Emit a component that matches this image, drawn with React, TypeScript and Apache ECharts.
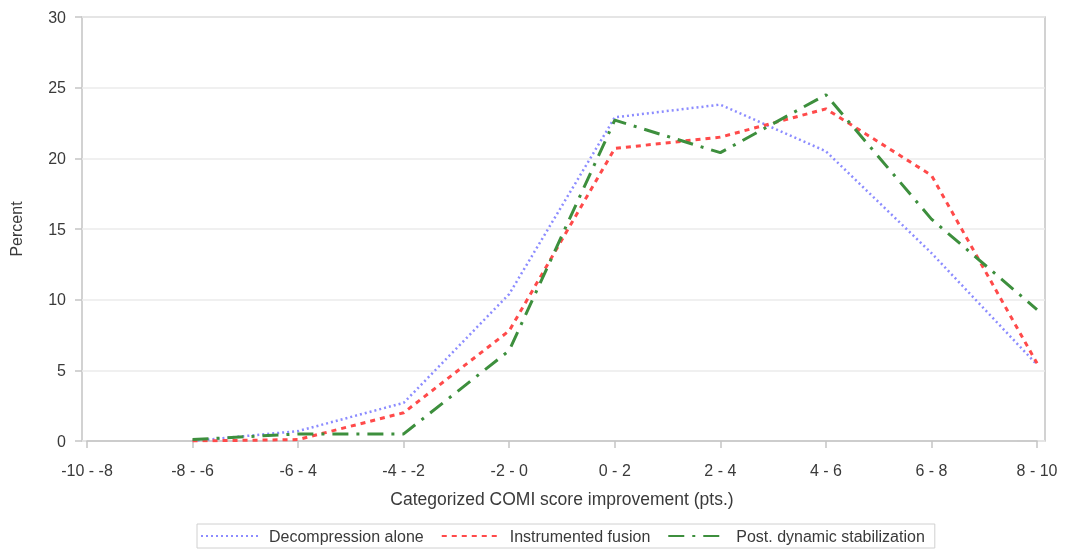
import React, { useEffect, useRef } from "react";
import * as echarts from "echarts";

const categories = ["-10 - -8", "-8 - -6", "-6 - 4", "-4 - -2", "-2 - 0", "0 - 2", "2 - 4", "4 - 6", "6 - 8", "8 - 10"];
const decompression = [null, 0.0, 0.7, 2.7, 10.4, 22.9, 23.8, 20.5, 13.3, 5.4];
const fusion = [null, 0.0, 0.1, 2.0, 7.8, 20.7, 21.5, 23.5, 18.8, 5.5];
const dynamic = [null, 0.1, 0.5, 0.5, 6.4, 22.7, 20.4, 24.5, 15.7, 9.3];
const seriesNames = ["Decompression alone", "Instrumented fusion", "Post. dynamic stabilization"];
const yTicks = { min: 0, max: 30, interval: 5 };

const FONT = "'Liberation Sans', Arial, sans-serif";
const TXT = "#3a3a3a";

export default function App() {
  const ref = useRef<HTMLDivElement>(null);
  useEffect(() => {
    document.body.style.margin = "0";
    const chart = echarts.init(ref.current!, null, { renderer: "svg" });
    chart.setOption({
      animation: false,
      textStyle: { fontFamily: FONT },
      grid: [
        { left: 87, right: 31, top: 17, bottom: 109 },
        { left: 82, right: 23, top: 17, bottom: 109, show: true, borderColor: "#c4c4c4", borderWidth: 1.5, backgroundColor: "transparent", z: 0 },
      ],
      xAxis: [
        {
          type: "category",
          gridIndex: 0,
          data: categories,
          boundaryGap: false,
          axisLine: { show: true, lineStyle: { color: "#c4c4c4", width: 1.5 } },
          axisTick: { show: true, length: 7, lineStyle: { color: "#c4c4c4", width: 1.5 } },
          axisLabel: { color: TXT, fontSize: 16, fontFamily: FONT, margin: 21, interval: 0 },
          name: "Categorized COMI score improvement (pts.)",
          nameLocation: "middle",
          nameGap: 49,
          nameTextStyle: { color: TXT, fontSize: 17.5, fontFamily: FONT },
        },
        { type: "category", gridIndex: 1, data: categories, show: false },
      ],
      yAxis: [
        {
          type: "value",
          gridIndex: 0,
          min: yTicks.min,
          max: yTicks.max,
          interval: yTicks.interval,
          offset: 5,
          axisLine: { show: false },
          axisTick: { show: true, length: 7, lineStyle: { color: "#c4c4c4", width: 1.5 } },
          axisLabel: { color: TXT, fontSize: 16, fontFamily: FONT, margin: 16 },
          splitLine: { show: false },
          name: "Percent",
          nameLocation: "middle",
          nameGap: 58,
          nameRotate: 90,
          nameTextStyle: { color: TXT, fontSize: 16, fontFamily: FONT },
        },
        {
          type: "value",
          gridIndex: 1,
          min: yTicks.min,
          max: yTicks.max,
          interval: yTicks.interval,
          axisLine: { show: false },
          axisTick: { show: false },
          axisLabel: { show: false },
          splitLine: { show: true, lineStyle: { color: "#ebebeb", width: 1.5 } },
        },
      ],
      legend: {
        bottom: 2,
        left: 197,
        orient: "horizontal",
        itemWidth: 58,
        itemHeight: 10,
        itemGap: 17,
        borderColor: "#d0d0d0",
        borderWidth: 1,
        padding: [4, 10, 4, 3],
        itemStyle: { opacity: 0 },
        textStyle: { color: TXT, fontSize: 16, fontFamily: FONT, padding: [0, 0, 0, 5] },
        data: seriesNames,
      },
      series: [
        {
          name: seriesNames[0],
          type: "line",
          data: decompression,
          showSymbol: false,
          symbol: "none",
          lineStyle: { color: "#8c8cff", width: 2.5, type: [2, 3] },
          itemStyle: { color: "#8c8cff" },
          z: 3,
        },
        {
          name: seriesNames[1],
          type: "line",
          data: fusion,
          showSymbol: false,
          symbol: "none",
          lineStyle: { color: "#ff4a4a", width: 3, type: [5, 5] },
          itemStyle: { color: "#ff4a4a" },
          z: 4,
        },
        {
          name: seriesNames[2],
          type: "line",
          data: dynamic,
          showSymbol: false,
          symbol: "none",
          lineStyle: { color: "#3d8f3d", width: 3, type: [16, 8, 3, 8] },
          itemStyle: { color: "#3d8f3d" },
          z: 5,
        },
      ],
    });
    return () => chart.dispose();
  }, []);
  return <div ref={ref} style={{ position: "fixed", left: 0, top: 0, width: 1068, height: 550 }} />;
}
